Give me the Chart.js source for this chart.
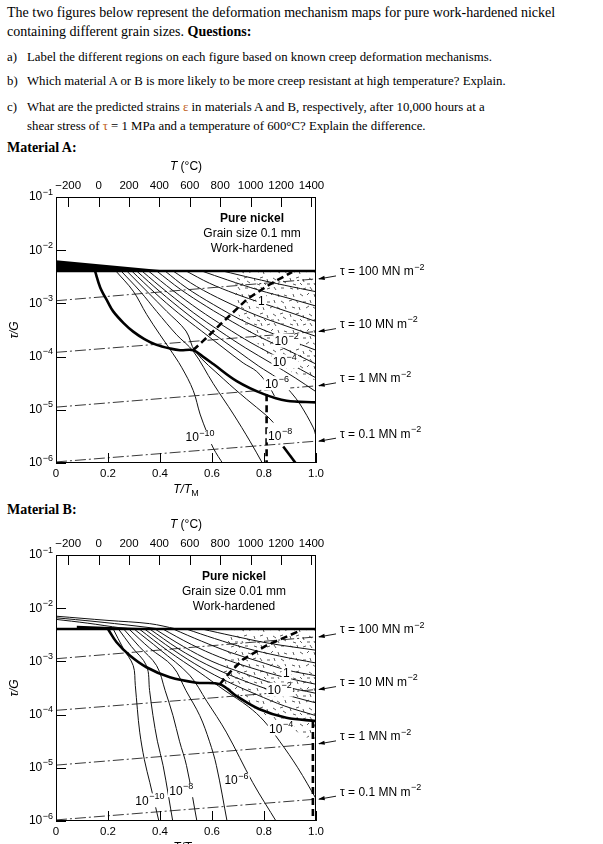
<!DOCTYPE html>
<html><head><meta charset="utf-8">
<script src="https://cdn.jsdelivr.net/npm/chart.js@4.4.1/dist/chart.umd.min.js"></script>
<style>
html,body{margin:0;padding:0;background:#fff;width:603px;height:844px;overflow:hidden;}
.t{position:absolute;left:7px;font-family:"Liberation Serif","Times New Roman",serif;font-size:14px;line-height:18px;white-space:nowrap;color:#000;}
.s{font-size:12.8px}
.ind{left:27px}
.or{color:#c0601a}
canvas{position:absolute;left:0}
</style></head><body>
<div class="t" style="top:4px">The two figures below represent the deformation mechanism maps for pure work-hardened nickel</div>
<div class="t" style="top:23px">containing different grain sizes. <b>Questions:</b></div>
<div class="t s" style="top:48px">a)</div><div class="t s ind" style="top:48px">Label the different regions on each figure based on known creep deformation mechanisms.</div>
<div class="t s" style="top:72px">b)</div><div class="t s ind" style="top:72px">Which material A or B is more likely to be more creep resistant at high temperature? Explain.</div>
<div class="t s" style="top:98px">c)</div><div class="t s ind" style="top:98px">What are the predicted strains <span class="or">ε</span> in materials A and B, respectively, after 10,000 hours at a</div>
<div class="t s ind" style="top:117px">shear stress of <span class="or">τ</span> = 1 MPa and a temperature of 600°C? Explain the difference.</div>
<div class="t" style="top:139px"><b>Material A:</b></div>
<div class="t" style="top:501px"><b>Material B:</b></div>
<canvas id="cA" width="603" height="358" style="top:142px"></canvas>
<canvas id="cB" width="603" height="358" style="top:500px"></canvas>
<script>
// ---------- axis ticks ----------
const xTicks = [0, 0.2, 0.4, 0.6, 0.8, 1.0];
const tempTicks = [-200, 0, 200, 400, 600, 800, 1000, 1200, 1400];
const yTickExp = [-1, -2, -3, -4, -5, -6];
const tempAtZero = -280, tempAtOne = 1430; // top axis range (°C) matching T/TM 0..1

// ---------- shear-stress lines [T/TM, log10(tau/G)] ----------
const tau100 = [[0, -2.95], [1, -2.54]];
const tau10  = [[0, -3.92], [1, -3.53]];
const tau1   = [[0, -4.95], [1, -4.55]];
const tau01  = [[0, -5.98], [1, -5.59]];
const tauNames = ['100', '10', '1', '0.1'];

// ---------- Material A (grain size 0.1 mm) ----------
const A_wedge = [[0, -2.19], [0.44, -2.39], [0, -2.39]];
const A_top = [[0, -2.39], [1, -2.39]];
const A_stipple = [[0.688,-2.39],[1.0,-2.39],[1.0,-4.45],[0.887,-4.26],[0.81,-3.97],[0.759,-3.65],[0.708,-3.34],[0.69,-2.9]];
const A_boundary = [[0.15,-2.39],[0.17,-2.7],[0.2,-2.98],[0.22,-3.15],[0.26,-3.37],[0.297,-3.53],[0.34,-3.67],[0.387,-3.78],[0.44,-3.85],[0.477,-3.88],[0.528,-3.88],[0.565,-4.0],[0.605,-4.14],[0.695,-4.46],[0.797,-4.70],[0.887,-4.83],[1.0,-4.86]];
const A_dashed = [[0.527,-3.88],[0.565,-3.71],[0.631,-3.40],[0.735,-2.92],[0.823,-2.64],[0.908,-2.41]];
const A_vdashed = [[0.81,-4.71],[0.81,-6.05]];
const A_r10 = [[0.23,-2.39],[0.297,-2.77],[0.349,-3.21],[0.40,-3.59],[0.438,-3.86],[0.483,-4.20],[0.528,-4.64],[0.554,-5.08],[0.58,-5.42],[0.605,-5.72],[0.644,-6.03]];
const A_r9 = [[0.25,-2.39],[0.323,-2.77],[0.387,-3.15],[0.464,-3.59],[0.528,-3.90],[0.605,-4.51],[0.682,-5.08],[0.746,-5.59],[0.797,-6.03]];
const A_r8 = [[0.272,-2.39],[0.349,-2.77],[0.426,-3.15],[0.50,-3.52],[0.535,-3.90],[0.644,-4.42],[0.733,-4.80],[0.81,-5.11],[0.836,-5.24]];
const A_r8b = [[0.874,-5.69],[0.926,-6.03]];
const A_r7 = [[0.291,-2.39],[0.38,-2.80],[0.47,-3.18],[0.56,-3.52],[0.65,-3.86],[0.72,-4.12],[0.772,-4.28],[0.817,-4.54],[0.84,-4.74]];
const A_r6 = [[0.31,-2.39],[0.40,-2.78],[0.50,-3.18],[0.60,-3.55],[0.70,-3.90],[0.78,-4.18],[0.85,-4.40],[0.874,-4.51],[0.905,-4.68],[0.938,-4.89],[0.99,-5.34],[1.0,-5.5]];
const A_r5 = [[0.33,-2.39],[0.43,-2.80],[0.53,-3.18],[0.63,-3.52],[0.73,-3.84],[0.83,-4.13],[0.92,-4.40],[1.0,-4.66]];
const A_r4 = [[0.355,-2.39],[0.45,-2.76],[0.55,-3.12],[0.65,-3.44],[0.75,-3.74],[0.88,-4.08],[1.0,-4.40]];
const A_r3 = [[0.387,-2.39],[0.48,-2.74],[0.58,-3.06],[0.68,-3.35],[0.78,-3.62],[0.9,-3.90],[1.0,-4.14]];
const A_r2 = [[0.419,-2.39],[0.50,-2.70],[0.605,-3.02],[0.733,-3.36],[0.887,-3.67],[1.0,-3.88]];
const A_r1 = [[0.45,-2.39],[0.54,-2.68],[0.65,-2.96],[0.77,-3.22],[0.9,-3.45],[1.0,-3.62]];
const A_r0 = [[0.50,-2.39],[0.59,-2.62],[0.69,-2.82],[0.79,-2.99],[0.9,-3.17],[1.0,-3.34]];
const A_rp1 = [[0.56,-2.39],[0.66,-2.56],[0.78,-2.75],[0.9,-2.91],[1.0,-3.05]];
const A_rp2 = [[0.64,-2.39],[0.76,-2.53],[0.88,-2.66],[1.0,-2.78]];
const A_rateLabels = [['1','',0.79,-2.96],['10','−2',0.887,-3.72],['10','−4',0.88,-4.11],['10','−6',0.85,-4.52],['10','−8',0.862,-5.50],['10','−10',0.554,-5.53]];
const A_panel = ['Pure nickel', 'Grain size 0.1 mm', 'Work-hardened'];

// ---------- Material B (grain size 0.01 mm) ----------
const B_wedge = [[0.08, -2.33], [0.42, -2.39], [0.08, -2.39]];
const B_w1 = [[0,-2.15],[0.2,-2.23],[0.36,-2.29],[0.463,-2.39]];
const B_w2 = [[0,-2.18],[0.15,-2.25],[0.3,-2.33],[0.4,-2.39]];
const B_w3 = [[0,-2.21],[0.12,-2.28],[0.25,-2.37],[0.3,-2.39]];
const B_top = [[0, -2.39], [1, -2.39]];
const B_stipple = [[0.668,-2.39],[1.0,-2.39],[1.0,-4.53],[0.911,-4.28],[0.809,-4.02],[0.706,-3.71],[0.635,-3.43],[0.649,-3.02]];
const B_boundary = [[0.20,-2.39],[0.233,-2.64],[0.284,-2.89],[0.348,-3.11],[0.438,-3.30],[0.54,-3.40],[0.63,-3.43],[0.694,-3.65],[0.783,-3.90],[0.886,-4.06],[1.0,-4.12]];
const B_dashed = [[0.63,-3.43],[0.668,-3.21],[0.72,-2.96],[0.81,-2.70],[0.94,-2.42]];
const B_vdashed = [[0.988,-4.12],[0.988,-6.05]];
const B_r10 = [[0.22,-2.39],[0.258,-2.75],[0.297,-3.08],[0.305,-3.45],[0.313,-3.9],[0.322,-4.33],[0.34,-4.85],[0.361,-5.28],[0.397,-6.03]];
const B_r9 = [[0.24,-2.39],[0.29,-2.72],[0.348,-3.08],[0.36,-3.55],[0.373,-4.02],[0.39,-4.5],[0.412,-4.96],[0.45,-6.03]];
const B_r8 = [[0.26,-2.39],[0.32,-2.72],[0.387,-3.08],[0.42,-3.55],[0.45,-4.02],[0.475,-4.5],[0.502,-4.96],[0.543,-6.03]];
const B_r7 = [[0.28,-2.39],[0.36,-2.75],[0.45,-3.1],[0.50,-3.55],[0.553,-4.02],[0.59,-4.5],[0.617,-4.96],[0.659,-6.03]];
const B_r6 = [[0.30,-2.39],[0.40,-2.78],[0.514,-3.26],[0.58,-3.75],[0.655,-4.33],[0.757,-5.28],[0.85,-6.03]];
const B_r5 = [[0.32,-2.39],[0.43,-2.8],[0.55,-3.2],[0.65,-3.55],[0.74,-3.85],[0.80,-4.12],[0.86,-4.5],[0.93,-5.0],[1.0,-5.58]];
const B_r4 = [[0.34,-2.39],[0.45,-2.78],[0.56,-3.12],[0.66,-3.38],[0.77,-3.62],[0.88,-3.84],[1.0,-4.02]];
const B_r3 = [[0.36,-2.39],[0.47,-2.76],[0.58,-3.06],[0.69,-3.3],[0.8,-3.5],[0.9,-3.65],[1.0,-3.78]];
const B_r2 = [[0.38,-2.39],[0.49,-2.72],[0.60,-3.0],[0.72,-3.22],[0.86,-3.45],[1.0,-3.6]];
const B_r1 = [[0.41,-2.39],[0.52,-2.68],[0.63,-2.92],[0.75,-3.12],[0.88,-3.3],[1.0,-3.43]];
const B_r0 = [[0.45,-2.39],[0.56,-2.62],[0.67,-2.83],[0.78,-3.0],[0.886,-3.16],[1.0,-3.27]];
const B_rp1 = [[0.50,-2.39],[0.61,-2.57],[0.73,-2.75],[0.86,-2.9],[1.0,-3.03]];
const B_rp2 = [[0.56,-2.39],[0.68,-2.52],[0.82,-2.66],[1.0,-2.79]];
const B_rateLabels = [['1','',0.886,-3.24],['10','−2',0.86,-3.55],['10','−4',0.866,-4.28],['10','−6',0.694,-5.25],['10','−8',0.482,-5.44],['10','−10',0.361,-5.63]];
const B_panel = ['Pure nickel', 'Grain size 0.01 mm', 'Work-hardened'];

// ---------- helpers ----------
const SANS = '"Liberation Sans", Arial, Helvetica, sans-serif';
Chart.defaults.font.family = SANS;
Chart.defaults.color = '#000';

function toPts(arr){ return arr.map(p => ({x: p[0], y: Math.pow(10, p[1])})); }
function base(arr){ return {data: toPts(arr), showLine: true, pointRadius: 0, pointHoverRadius: 0, fill: false}; }
function thin(arr){ return Object.assign(base(arr), {borderColor:'#111', borderWidth:1.0, tension:0.35, order:2}); }
function thick(arr){ return Object.assign(base(arr), {borderColor:'#000', borderWidth:2.6, tension:0.35, order:1}); }
function dashed(arr){ return Object.assign(base(arr), {borderColor:'#000', borderWidth:2.6, borderDash:[7,4], tension:0, order:1}); }
function dashdot(arr){ return Object.assign(base(arr), {borderColor:'#222', borderWidth:0.9, borderDash:[11,3,2,3], tension:0, order:2}); }
function area(arr, bg){ return Object.assign(base(arr), {borderColor:'rgba(0,0,0,0)', borderWidth:0, backgroundColor:bg, fill:'shape', tension:0, order:6}); }

// texture tile for the stippled (power-law breakdown) field
const stippleStrokes = [[2,2,5,3],[9,1,10,4],[15,3,18,2],[22,1,24,4],[29,2,32,2],[5,8,6,11],[12,8,15,10],[19,9,21,7],[26,8,27,11],[32,9,35,10],
  [1,15,4,14],[8,14,10,17],[15,16,18,16],[22,14,23,17],[29,15,32,17],[4,21,7,22],[11,21,12,24],[18,22,21,20],[25,21,28,23],[33,20,34,23],
  [2,28,3,31],[8,28,11,27],[15,29,16,32],[21,28,24,30],[28,28,31,27],[5,34,8,35],[12,33,14,35],[19,34,22,34],[26,33,27,35],[31,31,34,33]];
function makeStipple(){
  const c = document.createElement('canvas'); c.width = 36; c.height = 36;
  const g = c.getContext('2d');
  g.strokeStyle = '#333'; g.lineWidth = 0.8;
  stippleStrokes.forEach(s => { g.beginPath(); g.moveTo(s[0], s[1]); g.lineTo(s[2], s[3]); g.stroke(); });
  return g.createPattern(c, 'repeat');
}

function drawSup(ctx, b, s, x, y, size, align, bold){
  const fb = (bold ? 'bold ' : '') + size + 'px ' + SANS;
  const fs = Math.round(size * 0.75) + 'px ' + SANS;
  ctx.font = fb; const wb = ctx.measureText(b).width;
  ctx.font = fs; const ws = s ? ctx.measureText(s).width + 0.5 : 0;
  const w = wb + ws;
  const x0 = align === 'center' ? x - w / 2 : (align === 'right' ? x - w : x);
  ctx.textAlign = 'left'; ctx.textBaseline = 'middle';
  ctx.font = fb; ctx.fillText(b, x0, y);
  if (s) { ctx.font = fs; ctx.fillText(s, x0 + wb + 0.5, y - size * 0.4); }
  return {x0, w};
}

const annotPlugin = {
  id: 'annot',
  afterDatasetsDraw(chart, args, opts) {
    const ctx = chart.ctx, ca = chart.chartArea;
    const xs = chart.scales.x, ys = chart.scales.y, ts = chart.scales.x2;
    ctx.save();
    // frame
    ctx.strokeStyle = '#000'; ctx.lineWidth = 1;
    ctx.strokeRect(ca.left + 0.5, ca.top + 0.5, ca.right - ca.left - 1, ca.bottom - ca.top - 1);
    // inner ticks
    ctx.lineWidth = 1;
    ctx.beginPath();
    yTickExp.forEach(e => { const py = Math.round(ys.getPixelForValue(Math.pow(10, e))) + 0.5; ctx.moveTo(ca.left, py); ctx.lineTo(ca.left + 10, py); });
    xTicks.forEach(v => { const px = Math.round(xs.getPixelForValue(v)) + 0.5; ctx.moveTo(px, ca.bottom); ctx.lineTo(px, ca.bottom - 10); });
    tempTicks.forEach(v => { const px = Math.round(ts.getPixelForValue(v)) + 0.5; ctx.moveTo(px, ca.top); ctx.lineTo(px, ca.top + 10); });
    ctx.stroke();
    // y tick labels
    ctx.fillStyle = '#000';
    yTickExp.forEach(e => drawSup(ctx, '10', '−' + (-e), ca.left - 3, ys.getPixelForValue(Math.pow(10, e)), 12, 'right'));
    // axis titles
    const cx = (ca.left + ca.right) / 2;
    ctx.textBaseline = 'middle'; ctx.textAlign = 'left';
    ctx.font = 'italic 12px ' + SANS; const wT = ctx.measureText('T').width;
    ctx.font = '12px ' + SANS; const wR = ctx.measureText(' (°C)').width;
    let x0 = cx - (wT + wR) / 2;
    ctx.font = 'italic 12px ' + SANS; ctx.fillText('T', x0, ca.top - 30);
    ctx.font = '12px ' + SANS; ctx.fillText(' (°C)', x0 + wT, ca.top - 30);
    ctx.font = 'italic 12px ' + SANS; const wTT = ctx.measureText('T/T').width;
    ctx.font = '9px ' + SANS; const wM = ctx.measureText('M').width;
    x0 = cx - (wTT + wM) / 2;
    ctx.font = 'italic 12px ' + SANS; ctx.fillText('T/T', x0, ca.bottom + 27);
    ctx.font = '9px ' + SANS; ctx.fillText('M', x0 + wTT, ca.bottom + 31);
    ctx.save(); ctx.translate(15, (ca.top + ca.bottom) / 2); ctx.rotate(-Math.PI / 2);
    ctx.font = 'italic 12px ' + SANS; ctx.textAlign = 'center'; ctx.fillText('τ/G', 0, 0); ctx.restore();
    // panel text
    const panel = opts.panel;
    drawSup(ctx, panel[0], '', opts.panelX, ca.top + 22, 12, 'center', true);
    drawSup(ctx, panel[1], '', opts.panelX, ca.top + 37, 12, 'center');
    drawSup(ctx, panel[2], '', opts.panelX, ca.top + 52, 12, 'center');
    // strain-rate labels
    opts.rates.forEach(r => {
      const px = xs.getPixelForValue(r[2]), py = ys.getPixelForValue(Math.pow(10, r[3]));
      ctx.font = '12px ' + SANS; const wb = ctx.measureText(r[0]).width;
      ctx.font = '9px ' + SANS; const ws = r[1] ? ctx.measureText(r[1]).width : 0;
      const w = wb + ws + 1;
      ctx.fillStyle = '#fff'; ctx.fillRect(px - w / 2 - 1, py - 8, w + 2, 14);
      ctx.fillStyle = '#000';
      drawSup(ctx, r[0], r[1], px, py, 12, 'center');
    });
    // tau labels with arrows
    [tau100, tau10, tau1, tau01].forEach((t, i) => {
      const end = t[t.length - 1];
      const ex = xs.getPixelForValue(end[0]) + 1, ey = ys.getPixelForValue(Math.pow(10, end[1]));
      const ty = ey - 7, tx = ca.right + 24;
      ctx.strokeStyle = '#000'; ctx.lineWidth = 0.9;
      ctx.beginPath(); ctx.moveTo(tx - 4, ty + 4); ctx.lineTo(ex + 2, ey); ctx.stroke();
      const ang = Math.atan2(ty + 4 - ey, tx - 4 - ex);
      ctx.beginPath(); ctx.moveTo(ex + 1, ey);
      ctx.lineTo(ex + 1 + 7 * Math.cos(ang - 0.3), ey + 7 * Math.sin(ang - 0.3));
      ctx.lineTo(ex + 1 + 7 * Math.cos(ang + 0.3), ey + 7 * Math.sin(ang + 0.3));
      ctx.closePath(); ctx.fillStyle = '#000'; ctx.fill();
      drawSup(ctx, 'τ = ' + tauNames[i] + ' MN m', '−2', tx, ty, 12, 'left');
    });
    ctx.restore();
  }
};
Chart.register(annotPlugin);

function makeChart(id, sets, panel, panelX, rates){
  const tauSets = [tau100, tau10, tau1, tau01].map(dashdot);
  new Chart(document.getElementById(id), {
    type: 'scatter',
    data: { datasets: sets.concat(tauSets) },
    options: {
      responsive: false, animation: false, events: [],
      layout: { padding: { left: 0, right: 287, top: 0, bottom: 0 } },
      plugins: { legend: { display: false }, tooltip: { enabled: false },
        annot: { panel: panel, panelX: panelX, rates: rates } },
      scales: {
        x: { type: 'linear', position: 'bottom', min: 0, max: 1,
          grid: { display: false, drawTicks: false }, border: { display: false },
          afterBuildTicks: s => { s.ticks = xTicks.map(v => ({value: v})); },
          ticks: { padding: 4, autoSkip: false, maxRotation: 0, font: { size: 11.5 }, color: '#000',
            callback: v => v === 0 ? '0' : Number(v).toFixed(1) },
          afterFit: s => { s.height = 37; } },
        x2: { type: 'linear', position: 'top', min: tempAtZero, max: tempAtOne,
          grid: { display: false, drawTicks: false }, border: { display: false },
          afterBuildTicks: s => { s.ticks = tempTicks.map(v => ({value: v})); },
          ticks: { padding: 4, autoSkip: false, maxRotation: 0, font: { size: 11.5 }, color: '#000',
            callback: v => v < 0 ? '−' + Math.abs(v) : String(v) },
          afterFit: s => { s.height = 55; } },
        y: { type: 'logarithmic', position: 'left', min: 1e-6, max: 1e-1,
          grid: { display: false, drawTicks: false }, border: { display: false },
          afterBuildTicks: s => { s.ticks = yTickExp.map(e => ({value: Math.pow(10, e)})); },
          ticks: { display: false },
          afterFit: s => { s.width = 56; } }
      }
    }
  });
}

const stipple = makeStipple();
makeChart('cA', [
  area(A_stipple, stipple), area(A_wedge, '#000'),
  thick(A_top), thick(A_boundary), dashed(A_dashed), dashed(A_vdashed), thick(A_r8b),
  thin(A_r10), thin(A_r9), thin(A_r8), thin(A_r7), thin(A_r6), thin(A_r5), thin(A_r4),
  thin(A_r3), thin(A_r2), thin(A_r1), thin(A_r0), thin(A_rp1), thin(A_rp2)
], A_panel, 252, A_rateLabels);
makeChart('cB', [
  area(B_stipple, stipple), area(B_wedge, '#000'), thin(B_w1), thin(B_w2), thin(B_w3),
  thick(B_top), thick(B_boundary), dashed(B_dashed), dashed(B_vdashed),
  thin(B_r10), thin(B_r9), thin(B_r8), thin(B_r7), thin(B_r6), thin(B_r5), thin(B_r4),
  thin(B_r3), thin(B_r2), thin(B_r1), thin(B_r0), thin(B_rp1), thin(B_rp2)
], B_panel, 234, B_rateLabels);
</script>
</body></html>
